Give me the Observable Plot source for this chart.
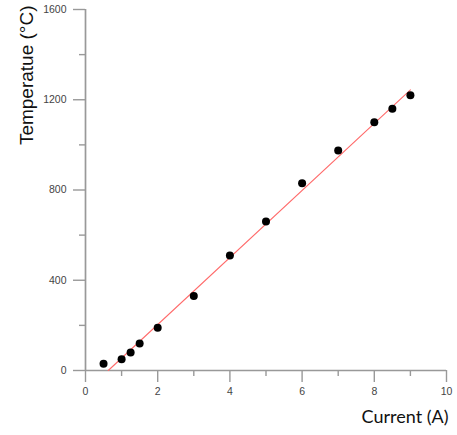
<!DOCTYPE html>
<html>
<head>
<meta charset="utf-8">
<script src="https://cdn.jsdelivr.net/npm/d3@7"></script>
<script src="https://cdn.jsdelivr.net/npm/@observablehq/plot@0.6"></script>
<style>
  html, body { margin: 0; padding: 0; background: #fff; }
</style>
</head>
<body>
<div id="chart"></div>
<script>
const current = [0.5, 1, 1.25, 1.5, 2, 3, 4, 5, 6, 7, 8, 8.5, 9];
const temperature = [30, 50, 80, 120, 190, 330, 510, 660, 830, 975, 1100, 1160, 1220];
const fitX = [0.63, 9];
const fitY = [0, 1244];
const xMajor = [0, 2, 4, 6, 8, 10];
const xMinor = [1, 3, 5, 7, 9];
const yMajor = [0, 400, 800, 1200, 1600];
const yMinor = [200, 600, 1000, 1400];
const xTitle = "Current (A)";
const yTitle = "Temperatue (°C)";

const points = current.map((c, i) => ({c, t: temperature[i]}));
const fit = fitX.map((c, i) => ({c, t: fitY[i]}));

const axisColor = "#999";
const labelColor = "#444";
const tickFont = "Liberation Sans, Arial, sans-serif";

const chart = Plot.plot({
  width: 457,
  height: 435,
  marginLeft: 85,
  marginRight: 11,
  marginTop: 9,
  marginBottom: 65,
  x: {type: "linear", domain: [0, 10], axis: null},
  y: {type: "linear", domain: [0, 1600], axis: null},
  style: {background: "#fff", fontFamily: tickFont},
  marks: [
    Plot.ruleY([0], {stroke: axisColor, strokeWidth: 1.7}),
    Plot.ruleX([0], {stroke: axisColor, strokeWidth: 1.7}),
    Plot.axisX({ticks: xMajor, tickSize: 12, tickPadding: 5, stroke: axisColor, strokeWidth: 1.4, fontSize: 10.5, fontFamily: tickFont, color: labelColor, label: null, tickFormat: d => String(d)}),
    Plot.axisX({ticks: xMinor, tickSize: 6, tickFormat: () => "", stroke: axisColor, strokeWidth: 1.4, label: null}),
    Plot.axisY({ticks: yMajor, tickSize: 12, tickPadding: 7, stroke: axisColor, strokeWidth: 1.4, fontSize: 10.5, fontFamily: tickFont, color: labelColor, label: null, tickFormat: d => String(d)}),
    Plot.axisY({ticks: yMinor, tickSize: 6, tickFormat: () => "", stroke: axisColor, strokeWidth: 1.4, label: null}),
    Plot.line(fit, {x: "c", y: "t", stroke: "#ff6b6b", strokeWidth: 1.1}),
    Plot.dot(points, {x: "c", y: "t", r: 4, fill: "#000", stroke: "none"}),
    Plot.text([xTitle], {frameAnchor: "bottom-right", text: d => d, textAnchor: "end", dy: 52, dx: 2, fontSize: 18, fill: "#111", fontFamily: "Lato, sans-serif"}),
    Plot.text([yTitle], {frameAnchor: "top-left", text: d => d, textAnchor: "end", rotate: -90, dx: -66, dy: -4, fontSize: 19, fill: "#111", fontFamily: "Liberation Sans, Arial, sans-serif"})
  ]
});
document.getElementById("chart").appendChild(chart);
</script>
</body>
</html>
